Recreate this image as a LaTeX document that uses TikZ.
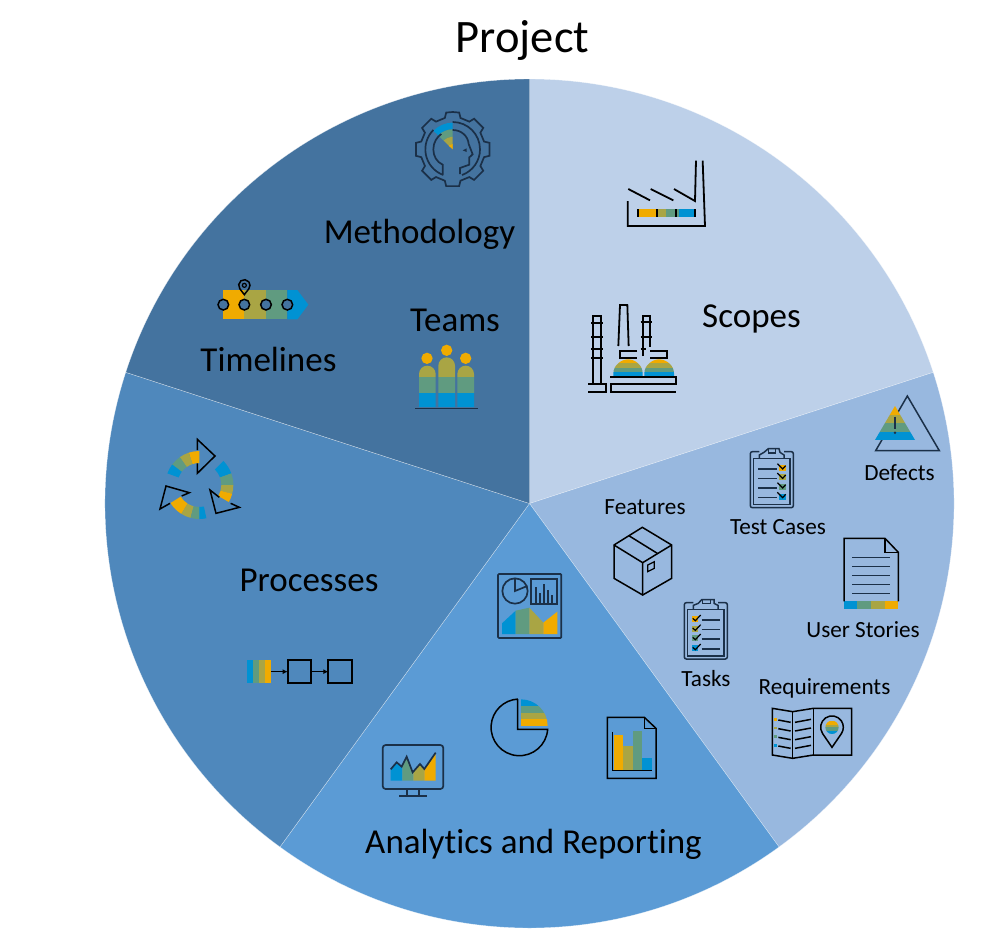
\documentclass[tikz,border=0pt]{standalone}
\usepackage{fontspec}
\usetikzlibrary{arrows.meta}
\setmainfont{Carlito}[Ligatures={NoCommon,NoRare}]
\definecolor{sa}{HTML}{BDD0E9}
\definecolor{sb}{HTML}{98B8DF}
\definecolor{sc}{HTML}{5B9BD5}
\definecolor{sd}{HTML}{4F88BC}
\definecolor{se}{HTML}{44739F}
\definecolor{cgold}{HTML}{F0AB00}
\definecolor{colive}{HTML}{A9A544}
\definecolor{cgreen}{HTML}{609B80}
\definecolor{cblue}{HTML}{0092D3}
\definecolor{navy}{HTML}{1B3048}
% horizontal bands gold to blue, top to bottom, clipped
\newcommand\hb[6]{\begin{scope}\clip #1;
\fill[cgold](-1000,#2) rectangle (4000,#3);
\fill[colive](-1000,#3) rectangle (4000,#4);
\fill[cgreen](-1000,#4) rectangle (4000,#5);
\fill[cblue](-1000,#5) rectangle (4000,#6);
\end{scope}}
% horizontal bands blue to gold
\newcommand\hr[6]{\begin{scope}\clip #1;
\fill[cblue](-1000,#2) rectangle (4000,#3);
\fill[cgreen](-1000,#3) rectangle (4000,#4);
\fill[colive](-1000,#4) rectangle (4000,#5);
\fill[cgold](-1000,#5) rectangle (4000,#6);
\end{scope}}
\newcommand\ringseg[3]{\fill[#3] (#1:102) arc[start angle=#1,end angle=#2,radius=102] -- (#2:66) arc[start angle=#2,end angle=#1,radius=66] -- cycle;}
\tikzset{
 slice/.style={draw=white,draw opacity=.55,line width=.4pt},
 big/.style={font=\fontsize{35}{40}\selectfont,anchor=base,inner sep=0pt,text=black},
 small/.style={font=\fontsize{23.2}{28}\selectfont,anchor=base,inner sep=0pt,text=black},
 art/.style={draw=black,line width=1.8pt,line join=miter},
 line/.style={draw=black,line width=1.5pt},
 fine/.style={draw=navy,line width=1.5pt},
 dark/.style={draw=navy,line width=1.7pt},
 zoomed/.style={shift={#1},scale=1/3}
}
\begin{document}
\begin{tikzpicture}[x=1pt,y=-1pt]
\useasboundingbox (0,0) rectangle (999,946);
\fill[white] (0,0) rectangle (999,946);
% pie
\coordinate (c) at (529.5,503.5);
\fill[sa,slice] (c) -- ++(-90:424.5) arc[start angle=-90,end angle=-18,radius=424.5] -- cycle;
\fill[sb,slice] (c) -- ++(-18:424.5) arc[start angle=-18,end angle=54,radius=424.5] -- cycle;
\fill[sc,slice] (c) -- ++(54:424.5) arc[start angle=54,end angle=126,radius=424.5] -- cycle;
\fill[sd,slice] (c) -- ++(126:424.5) arc[start angle=126,end angle=198,radius=424.5] -- cycle;
\fill[se,slice] (c) -- ++(198:424.5) arc[start angle=198,end angle=270,radius=424.5] -- cycle;
% labels
\node[anchor=base,inner sep=0pt,font=\fontsize{46.5}{50}\selectfont] (title) at (522.5,52) {Project};
\node[big] (methodology) at (419.5,243) {Methodology};
\node[big] (teams) at (455,331.5) {Teams};
\node[big] (timelines) at (268.5,371) {Timelines};
\node[big] (scopes) at (751.5,327.5) {Scopes};
\node[big] (processes) at (309,591) {Processes};
\node[big] (analytics) at (533.5,853) {Analytics and Reporting};
\node[small] (features) at (645,514) {Features};
\node[small] (testcases) at (778,534) {Test Cases};
\node[small] (defects) at (899.5,480) {Defects};
\node[small] (userstories) at (863,637) {User Stories};
\node[small] (tasks) at (706,686) {Tasks};
\node[small] (requirements) at (824.5,694) {Requirements};
% ---- zoom 1: methodology, teams, factory, plant
\begin{scope}[zoomed={(400,100)}]
 % factory
 \draw[art] (683,303) -- (683,378) -- (915,378) -- (908,182);
 \draw[art] (888,182) -- (885,303) -- (822,267);
 \draw[art] (820,301) -- (752,267);
 \draw[art] (750,301) -- (685,267);
 \fill[cgold] (712,327) rectangle (770,350);
 \fill[colive] (770,327) rectangle (798,350);
 \fill[cgreen] (798,327) rectangle (838,350);
 \fill[cblue] (838,327) rectangle (885,350);
 \foreach \x in {714,770,828,885} \draw[black,line width=1.8pt] (\x,327) -- (\x,350);
 % plant
 \draw[art] (580,850) -- (580,648) -- (602,648) -- (602,850);
 \foreach \y in {668,712,746,774} \draw[art] (573,\y) -- (609,\y);
 \draw[art] (565,853) -- (617,853) -- (617,877) -- (565,877);
 \draw[art] (655,738) -- (660,615) -- (682,615) -- (686,738);
 \draw[art] (730,768) -- (730,648) -- (750,648) -- (750,740);
 \foreach \y in {667,712} \draw[art] (722,\y) -- (757,\y);
 \draw[art] (722,746) -- (738,746);
 \draw[art] (711,753) -- (660,753) -- (660,773) -- (712,773);
 \draw[art] (750,753) -- (802,753) -- (802,773) -- (750,773);
 \hb{(640,830) -- (640,820) .. controls (640,795) and (665,778) .. (684,778) .. controls (705,778) and (728,795) .. (728,820) -- (728,830) -- cycle}{770}{790}{803}{815}{830}
 \hb{(733,830) -- (733,820) .. controls (733,795) and (758,778) .. (777,778) .. controls (798,778) and (822,795) .. (822,820) -- (822,830) -- cycle}{770}{790}{803}{815}{830}
 \draw[art] (630,830) -- (828,830) -- (828,853) -- (632,853) -- (632,877) -- (828,877);
 % teams
 \fill[cgold] (81,775) circle[radius=17];
 \fill[cgold] (140,751) circle[radius=17];
 \fill[cgold] (197,775) circle[radius=17];
 \hb{(57,922) -- (57,822) arc[start angle=180,end angle=360,radius=25] -- (107,922) -- cycle}{780}{780}{830}{878}{922}
 \hb{(115,922) -- (115,797) arc[start angle=180,end angle=360,radius=25] -- (165,922) -- cycle}{760}{760}{830}{878}{922}
 \hb{(172,922) -- (172,822) arc[start angle=180,end angle=360,radius=25] -- (222,922) -- cycle}{780}{780}{830}{878}{922}
 \draw[navy,line width=1.5pt] (45,925) -- (235,925);
 % methodology
 \begin{scope}[shift={(158,148)}]
  \fill[cblue] (-90:80) arc[start angle=-90,end angle=-136,radius=80] -- (-136:60) arc[start angle=-136,end angle=-90,radius=60] -- cycle;
  \fill[cgreen] (-90:60) arc[start angle=-90,end angle=-136,radius=60] -- (-136:38) arc[start angle=-136,end angle=-90,radius=38] -- cycle;
  \fill[colive] (0,0) -- (-90:38) arc[start angle=-90,end angle=-136,radius=38] -- cycle;
  \fill[cgold] (0,0) -- (-90:16) arc[start angle=-90,end angle=-136,radius=16] -- cycle;
  \draw[dark] (0,-112) \foreach \a in {-90,-45,0,45,90,135,180,225} { -- (\a+10:112) -- (\a+14:97) -- (\a+31:97) -- (\a+35:112) } -- cycle;
  \draw[dark] (0,-82) arc[start angle=-90,end angle=70,radius=82];
  \draw[dark] (-28,77) arc[start angle=110,end angle=225,radius=82];
  \draw[dark] (-30,74) -- (-30,46) .. controls (-48,38) and (-58,20) .. (-58,0) .. controls (-58,-22) and (-46,-38) .. (-34,-46);
  \draw[dark] (0,-58) .. controls (26,-58) and (46,-40) .. (48,-16) -- (60,15) -- (50,24) -- (50,46) -- (22,56) -- (22,74);
  \fill[navy] (30,3) -- (42,-3) -- (42,8) -- cycle;
 \end{scope}
\end{scope}
% ---- timeline
\begin{scope}[zoomed={(190,270)}]
 \fill[cgold] (100,60) rectangle (163,148);
 \fill[colive] (163,60) rectangle (228,148);
 \fill[cgreen] (228,60) rectangle (292,148);
 \fill[cblue] (292,60) -- (322,60) -- (355,104) -- (322,148) -- (292,148) -- cycle;
 \foreach \x in {100,163,228,292} \draw[black,line width=1.5pt,fill=se] (\x,104) circle[radius=16];
 \draw[line] (163,74) -- (149.5,56.3) arc[start angle=142.6,end angle=397.4,radius=17] -- cycle;
 \draw[black,line width=1.2pt] (163,46) circle[radius=6];
\end{scope}
% ---- processes
\begin{scope}[zoomed={(140,420)}]
 \begin{scope}[shift={(178,195)}]
  \ringseg{-90}{-108}{cgold}\ringseg{-108}{-125}{colive}\ringseg{-125}{-143}{cgreen}\ringseg{-143}{-160}{cblue}
  \ringseg{-45}{-20}{cblue}\ringseg{-20}{0}{cgreen}\ringseg{0}{15}{colive}\ringseg{15}{30}{cgold}
  \ringseg{148}{122}{cgold}\ringseg{122}{105}{colive}\ringseg{105}{90}{cgreen}\ringseg{90}{78}{cblue}
 \end{scope}
 \draw[line] (172,90) -- (172,58) -- (225,108) -- (172,160) -- (172,130);
 \draw[line] (238,232) -- (210,210) -- (228,280) -- (298,262) -- (272,250);
 \draw[line] (125,228) -- (148,218) -- (78,198) -- (60,267) -- (90,250);
 \fill[cblue] (322,720) rectangle (340,790);
 \fill[cgreen] (340,720) rectangle (358,790);
 \fill[colive] (358,720) rectangle (375,790);
 \fill[cgold] (375,720) rectangle (393,790);
 \draw[art] (443,720) rectangle (513,790);
 \draw[art] (565,720) rectangle (635,790);
 \draw[black,line width=1.5pt,-{Latex[length=5pt,width=5pt]}] (393,755) -- (443,755);
 \draw[black,line width=1.5pt,-{Latex[length=5pt,width=5pt]}] (513,755) -- (565,755);
\end{scope}
% ---- analytics
\begin{scope}[zoomed={(370,560)}]
 % dashboard
 \fill[cblue] (396,222) -- (396,190) -- (437,152) -- (437,222) -- cycle;
 \fill[cgreen] (437,222) -- (437,152) -- (478,143) -- (478,222) -- cycle;
 \fill[colive] (478,222) -- (478,143) -- (520,188) -- (520,222) -- cycle;
 \fill[cgold] (520,222) -- (520,188) -- (562,155) -- (562,222) -- cycle;
 \draw[dark,rounded corners=1pt] (384,42) rectangle (574,234);
 \draw[dark] (435,93) circle[radius=38];
 \draw[dark] (435,55) -- (435,93) -- (472,78);
 \draw[dark] (484,56) rectangle (560,132);
 \draw[dark] (497,82) -- (497,132) (510,100) -- (510,132) (522,72) -- (522,132) (534,90) -- (534,132) (546,105) -- (546,132);
 % pie
 \hr{(453,498) -- (453,418) arc[start angle=-90,end angle=0,radius=80] -- cycle}{418}{438}{458}{478}{498}
 \draw[line] (443,417) -- (443,508) -- (533,508) arc[start angle=4,end angle=267,radius=85];
 % report
 \draw[line] (712,472) -- (823,472) -- (858,505) -- (858,655) -- (712,655) -- cycle;
 \draw[line] (823,472) -- (823,505) -- (858,505);
 \fill[cgold] (731,525) rectangle (760,630);
 \fill[colive] (760,558) rectangle (788,630);
 \fill[cgreen] (788,514) rectangle (816,630);
 \fill[cblue] (816,594) rectangle (845,630);
 \draw[line] (728,515) -- (728,632) -- (845,632);
 % monitor
 \fill[cblue] (62,662) -- (62,628) -- (80,607) -- (97,620) -- (97,662) -- cycle;
 \fill[cgreen] (97,662) -- (97,620) -- (110,590) -- (128,637) -- (130,637) -- (130,662) -- cycle;
 \fill[colive] (130,662) -- (130,637) -- (150,612) -- (163,627) -- (163,662) -- cycle;
 \fill[cgold] (163,662) -- (163,627) -- (197,578) -- (197,662) -- cycle;
 \draw[dark] (62,628) -- (80,607) -- (95,620) -- (110,590) -- (128,637) -- (150,612) -- (163,627) -- (197,578);
 \draw[dark,rounded corners=3pt] (38,555) rectangle (220,687);
 \draw[dark] (112,687) -- (112,707) (146,687) -- (146,707) (88,707) -- (170,707);
\end{scope}
% ---- test cases, defects, features, user stories
\begin{scope}[zoomed={(600,390)}]
 % defects
 \draw[navy,line width=1.5pt] (922,18) -- (1018,182) -- (827,182) -- cycle;
 \hb{(885,48) -- (945,150) -- (825,150) -- cycle}{48}{75}{100}{125}{150}
 \draw[navy,line width=2pt] (885,80) -- (885,118);
 \fill[navy] (885,128) circle[radius=4];
 % test cases
 \draw[fine,rounded corners=2pt] (478,185) -- (451,185) -- (451,353) -- (580,353) -- (580,185) -- (552,185);
 \draw[fine] (460,205) -- (570,205) -- (570,343) -- (460,343) -- cycle;
 \draw[fine] (478,205) -- (478,195) -- (492,187) -- (505,176) -- (537,176) -- (540,187) -- (552,195) -- (552,205);
 \draw[fine,line width=1.1pt] (505,176) -- (505,189) -- (527,189) -- (527,176);
 \foreach \y/\c in {237/cgold,265/colive,294/cgreen,323/cblue}{
  \draw[fine] (475,\y) -- (530,\y);
  \fill[\c] (538,\y-12) rectangle (557,\y+6);
  \draw[black,line width=1.2pt] (532,\y-16) -- (548,\y) -- (557,\y-10);
 }
 % features box
 \draw[line] (127,412) -- (215,465) -- (215,565) -- (128,615) -- (42,565) -- (42,465) -- cycle;
 \draw[line] (42,465) -- (128,518) -- (215,465) (128,518) -- (128,615);
 \draw[line] (88,438) -- (172,490);
 \draw[black,line width=1.2pt] (143,525) -- (163,515) -- (163,535) -- (143,545) -- cycle;
 % user stories
 \fill[cblue] (732,634) rectangle (772,657);
 \fill[cgreen] (772,634) rectangle (814,657);
 \fill[colive] (814,634) rectangle (855,657);
 \fill[cgold] (855,634) rectangle (895,657);
 \draw[line] (732,634) -- (732,445) -- (855,445) -- (895,487) -- (895,634);
 \draw[line] (855,445) -- (855,487) -- (895,487);
 \foreach \y in {503,530,557,584,611} \draw[fine] (757,\y) -- (870,\y);
\end{scope}
% ---- tasks, requirements
\begin{scope}[zoomed={(670,590)}]
 \draw[fine,rounded corners=2pt] (70,38) -- (43,38) -- (43,207) -- (172,207) -- (172,38) -- (144,38);
 \draw[fine] (52,58) -- (162,58) -- (162,198) -- (52,198) -- cycle;
 \draw[fine] (70,58) -- (70,46) -- (85,40) -- (95,29) -- (132,29) -- (132,40) -- (144,46) -- (144,58);
 \draw[fine,line width=1.1pt] (98,29) -- (98,40) -- (122,40) -- (122,29);
 \foreach \y/\c in {87/cgold,116/colive,144/cgreen,174/cblue}{
  \fill[\c] (67,\y-9) rectangle (85,\y+9);
  \draw[black,line width=1.2pt] (68,\y-2) -- (76,\y+5) -- (92,\y-12);
  \draw[fine] (95,\y+3) -- (150,\y+3);
 }
 % requirements
 \draw[line] (307,355) -- (368,365) -- (430,355) -- (545,355) -- (545,495) -- (430,495) -- (368,505) -- (307,495) -- cycle;
 \draw[line] (368,365) -- (368,505) (430,355) -- (430,495);
 \foreach \y/\c in {388/cgold,414/colive,440/cgreen,466/cblue}{
  \fill[\c] (311,\y-4) rectangle (320,\y+4);
  \draw[line] (325,\y+2) -- (362,\y+9);
  \draw[line] (375,\y+9) -- (423,\y);
 }
 \draw[line] (486,472) -- (458,431) arc[start angle=145.5,end angle=394.5,radius=34] -- cycle;
 \hb{(486,412) circle[radius=20]}{392}{404}{412}{422}{432}
\end{scope}
\end{tikzpicture}
\end{document}
